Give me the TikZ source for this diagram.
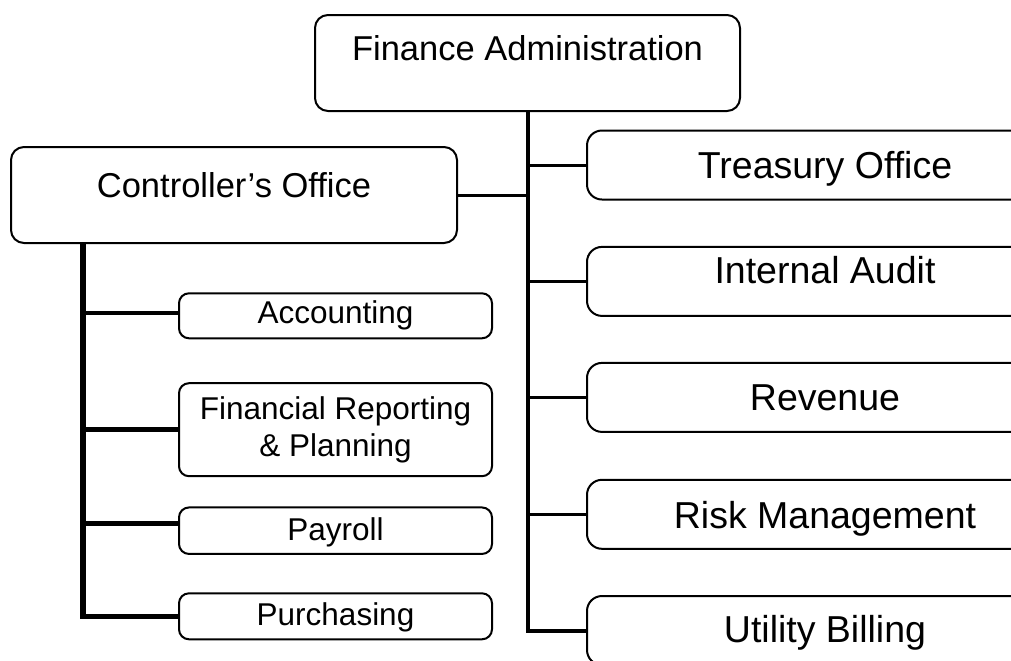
\documentclass[tikz,border=0pt]{standalone}
\usepackage{fontspec}
\setmainfont{Liberation Sans}

\begin{document}
\begin{tikzpicture}[x=0.5pt,y=-0.5pt,
    office/.style ={draw, line width=1pt, rounded corners=6.5pt, inner sep=0pt,
                    minimum height=48pt, font=\fontsize{17.25}{20}\selectfont},
    division/.style ={draw, line width=1pt, rounded corners=7.5pt, inner sep=0pt,
                    minimum width=238pt, minimum height=34.5pt, font=\fontsize{18.75}{22}\selectfont},
    unit/.style ={draw, line width=1pt, rounded corners=5pt, inner sep=0pt, align=center,
                    minimum width=156.5pt, font=\fontsize{15.75}{18.35}\selectfont},
    trunk/.style ={line width=2pt},
    branch/.style ={line width=1.5pt},
    ltrunk/.style ={line width=2.7pt},
    lbranch/.style ={line width=2.4pt}]
   \useasboundingbox (0,0) rectangle (1011,660);
   \clip (0,0) rectangle (1011,660);

   % top level
   \node[office, minimum width=212.5pt, text height=13pt, text depth=16pt] (FA) at (527.5,63) {Finance Administration};
   \node[office, minimum width=223pt, text height=13pt, text depth=11pt] (CO) at (234,195) {Controller’s Office};

   % right column
   \node[division, text height=14pt, text depth=1pt]   (TO) at (825,165)   {Treasury Office};
   \node[division, text height=13pt, text depth=11pt]  (IA) at (825,281.4) {Internal Audit};
   \node[division, text height=14pt, text depth=0.7pt] (RV) at (825,397.4) {Revenue};
   \node[division, text height=14pt, text depth=0.3pt] (RM) at (825,514.3) {Risk Management};
   \node[division, text height=14pt, text depth=1.8pt] (UB) at (825,630.5) {Utility Billing};

   % left column
   \node[unit, minimum height=22.5pt, text height=11pt, text depth=3.5pt] (AC) at (335.5,315.8) {Accounting};
   \node[unit, minimum height=46.5pt] (FR) at (335.5,429.7) {Financial Reporting\\\& Planning};
   \node[unit, minimum height=23.25pt, text height=11pt, text depth=1.7pt] (PY) at (335.5,530.7) {Payroll};
   \node[unit, minimum height=23pt, text height=11pt, text depth=1.6pt] (PU) at (335.5,616.3) {Purchasing};

   \coordinate (L) at (83,243);

   % lines
   \draw[trunk] (FA) |- (UB);
   \draw[branch] (CO) to (FA |- CO);
   \foreach \n in {TO,IA,RV,RM}
      \draw[branch] (FA |- \n) to (\n);

   \draw[ltrunk] (L) |- (PU);
   \foreach \n/\s in {AC/1.4pt,FR/0pt,PY/3.7pt}
      \draw[lbranch] ([yshift=\s]\n.west) to +(-96,0);
\end{tikzpicture}
\end{document}
